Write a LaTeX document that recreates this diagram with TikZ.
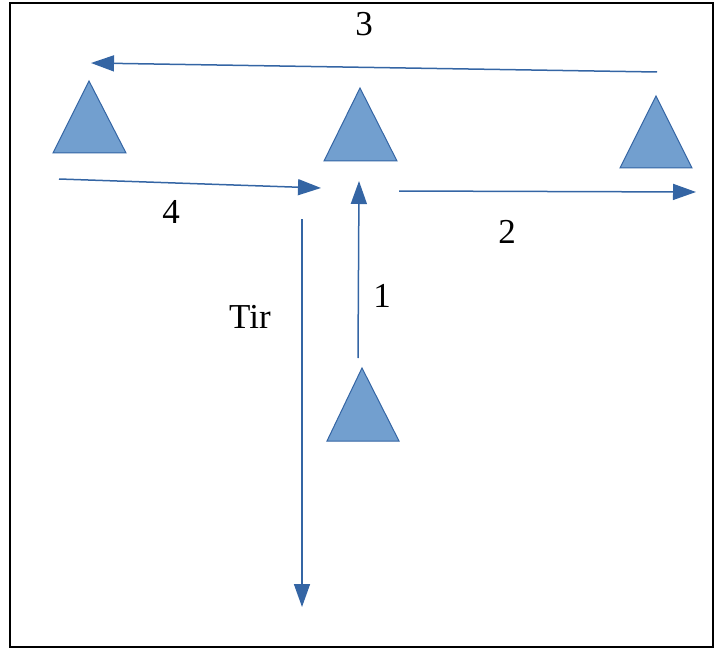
\documentclass[tikz,border=0pt]{standalone}
\usepackage{fontspec}
\setmainfont{Liberation Serif}
\usetikzlibrary{arrows.meta}
\definecolor{trifill}{HTML}{729FCF}
\definecolor{triline}{HTML}{3465A4}
\begin{document}
\begin{tikzpicture}[x=1pt,y=-1pt,
  tri/.style={fill=trifill,draw=triline,line width=1pt,line join=miter},
  arr/.style={draw=triline,line width=1.5pt,-{Triangle[length=23pt,width=16pt]}},
  lbl/.style={anchor=base,inner sep=0pt,font=\fontsize{35}{40}\selectfont}]
\useasboundingbox (0,0) rectangle (715,650);
\draw[line width=2pt] (10,3) rectangle (713,647);
% triangles
\draw[tri] (89,81) -- (126,153) -- (53,153) -- cycle;
\draw[tri] (360,88) -- (397,161) -- (324,161) -- cycle;
\draw[tri] (656,96) -- (692,168) -- (620,168) -- cycle;
\draw[tri] (362,368) -- (399,441) -- (327,441) -- cycle;
% arrow end points
\coordinate (a3s) at (657,72);  \coordinate (a3e) at (91,63);
\coordinate (a4s) at (59,179);  \coordinate (a4e) at (321,188);
\coordinate (a2s) at (399,191); \coordinate (a2e) at (696,192);
\coordinate (a1s) at (358,358); \coordinate (a1e) at (359,181);
\coordinate (ats) at (302,219); \coordinate (ate) at (302,607);
\draw[arr] (a3s) -- (a3e);
\draw[arr] (a4s) -- (a4e);
\draw[arr] (a2s) -- (a2e);
\draw[arr] (a1s) -- (a1e);
\draw[arr] (ats) -- (ate);
% labels
\node[lbl] (l3) at (364,36) {3};
\node[lbl] (l4) at (171,223) {4};
\node[lbl] (l2) at (507,243) {2};
\node[lbl] (l1) at (382,307) {1};
\node[lbl] (lt) at (250,328) {Tir};
\end{tikzpicture}
\end{document}
